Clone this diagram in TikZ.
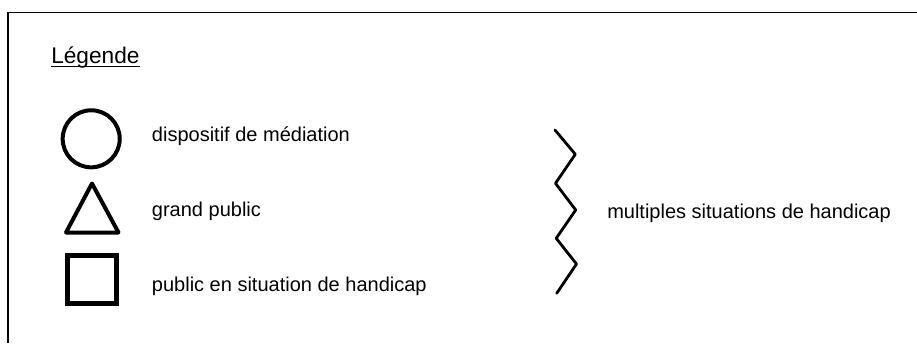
\documentclass[tikz,border=0pt]{standalone}
\usepackage{fontspec}
\setmainfont{Liberation Sans}
\begin{document}
\begin{tikzpicture}[x=0.75pt,y=-0.75pt,
  lbl/.style={anchor=base west,inner sep=0pt,font=\fontsize{15pt}{18pt}\selectfont},
  title/.style={anchor=base west,inner sep=0pt,font=\fontsize{17pt}{20pt}\selectfont},
  framel/.style={line width=1pt},
  shp/.style={draw,line width=3pt,inner sep=0pt},
  zz/.style={line width=2.1pt,line join=round,line cap=round}]
\useasboundingbox (0,0) rectangle (917,343);
% frame
\coordinate (fbl) at (8,343);
\coordinate (ftl) at (8,12.5);
\coordinate (ftr) at (917,12.5);
\draw[framel] (fbl) -- (ftl) -- (ftr);
% title
\node[title] (leg) at (51,63.3) {Légende};
\draw[line width=1pt] ([yshift=-2.6pt]leg.base west) -- ([yshift=-2.6pt]leg.base east);
% circle
\node[shp,circle,minimum size=42.8pt] (circ) at (91.2,138.8) {};
% triangle
\draw[line width=3pt,line join=round] (92,183.5) -- (118.5,232.5) -- (66,232.5) -- cycle;
% square
\node[shp,rectangle,line width=3.6pt,minimum width=36.9pt,minimum height=36.1pt] (sq) at (91.9,279.6) {};
% labels
\node[lbl] (t1) at (151.7,141.5) {dispositif de médiation};
\node[lbl] (t2) at (151.7,216) {grand public};
\node[lbl] (t3) at (151.7,291.7) {public en situation de handicap};
% zigzag
\draw[zz] (555,130) -- (575.3,154.3) -- (555.5,183.3) -- (575.7,210) -- (556.2,238.3) -- (576.5,264) -- (556.7,293.3);
\node[lbl] (t4) at (607,218.5) {multiples situations de handicap};
\end{tikzpicture}
\end{document}
